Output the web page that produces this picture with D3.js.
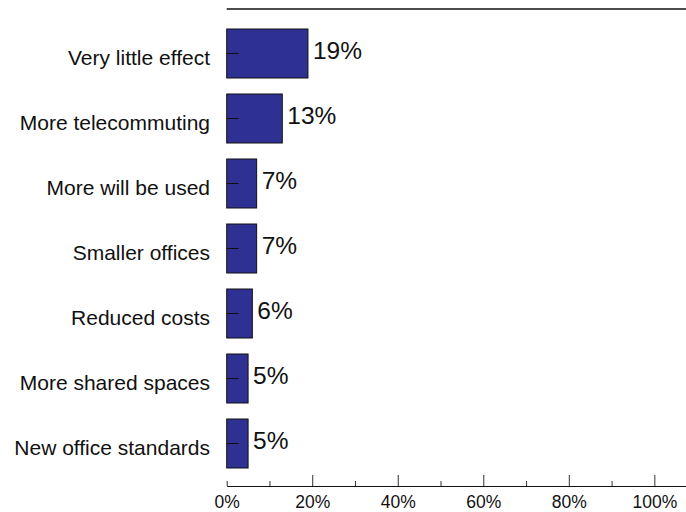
<!DOCTYPE html>
<html>
<head>
<meta charset="utf-8">
<script src="https://cdn.jsdelivr.net/npm/d3@7"></script>
<style>
  html, body { margin: 0; padding: 0; background: #fff; }
  svg { display: block; font-family: "Liberation Sans", Arial, sans-serif; }
</style>
</head>
<body>
<svg id="chart" width="686" height="512"></svg>
<script>
// Survey answers, top to bottom
const categories = [
  "Very little effect",
  "More telecommuting",
  "More will be used",
  "Smaller offices",
  "Reduced costs",
  "More shared spaces",
  "New office standards"
];
// Share of respondents, in percent
const values = [19, 13, 7, 7, 6, 5, 5];
// Axis ticks (percent)
const majorTicks = [0, 20, 40, 60, 80, 100];
const minorTicks = [10, 30, 50, 70, 90];

const W = 686, H = 512;
const left = 226.7, topY = 9, axisY = 486;

const svg = d3.select("#chart");

const x = d3.scaleLinear().domain([0, 107.4]).range([left, W]);
const y = d3.scaleBand()
  .domain(categories)
  .range([21, 476])
  .paddingInner(16 / 65)
  .paddingOuter(8 / 65);

// top frame line
svg.append("line")
  .attr("x1", left).attr("x2", W)
  .attr("y1", topY).attr("y2", topY)
  .attr("stroke", "#111").attr("stroke-width", 1.4);

// bars
svg.append("g").selectAll("rect")
  .data(values)
  .join("rect")
  .attr("x", x(0))
  .attr("y", (d, i) => y(categories[i]))
  .attr("width", d => x(d) - x(0))
  .attr("height", y.bandwidth())
  .attr("fill", "#2f3192")
  .attr("stroke", "#111")
  .attr("stroke-width", 1);

// category axis: inward ticks, no spine
const yAxis = svg.append("g")
  .attr("transform", `translate(${left},0)`)
  .call(d3.axisLeft(y).tickSize(-12).tickPadding(16.7).tickSizeOuter(0));
yAxis.select(".domain").remove();
yAxis.selectAll(".tick line").attr("stroke", "#111");
yAxis.selectAll(".tick text")
  .attr("font-size", 21)
  .attr("fill", "#111")
  .attr("dy", "0.72em")
  .attr("y", -4)
  .attr("font-family", "'Liberation Sans', Arial, sans-serif");

// value labels
svg.append("g").selectAll("text")
  .data(values)
  .join("text")
  .attr("x", d => x(d) + 5)
  .attr("y", (d, i) => y(categories[i]) + y.bandwidth() / 2 + 5)
  .attr("font-size", 24.5)
  .attr("fill", "#111")
  .text(d => d + "%");

// percent axis along the bottom
const xAxis = svg.append("g")
  .attr("transform", `translate(0,${axisY})`)
  .call(d3.axisBottom(x)
    .tickValues(majorTicks)
    .tickFormat(d => d + "%")
    .tickSizeInner(-11)
    .tickSizeOuter(0)
    .tickPadding(14));
xAxis.select(".domain").attr("stroke", "#111").attr("stroke-width", 1.2);
xAxis.selectAll(".tick line")
  .attr("stroke", "#333")
  .attr("y2", d => d === 0 ? -5 : -11);
xAxis.selectAll(".tick text")
  .attr("font-size", 17.5)
  .attr("fill", "#111")
  .attr("y", 22)
  .attr("dy", 0)
  .attr("font-family", "'Liberation Sans', Arial, sans-serif");

svg.append("g")
  .attr("transform", `translate(0,${axisY})`)
  .selectAll("line")
  .data(minorTicks)
  .join("line")
  .attr("x1", d => x(d) + 0.5).attr("x2", d => x(d) + 0.5)
  .attr("y1", 0).attr("y2", -5)
  .attr("stroke", "#333");
</script>
</body>
</html>
